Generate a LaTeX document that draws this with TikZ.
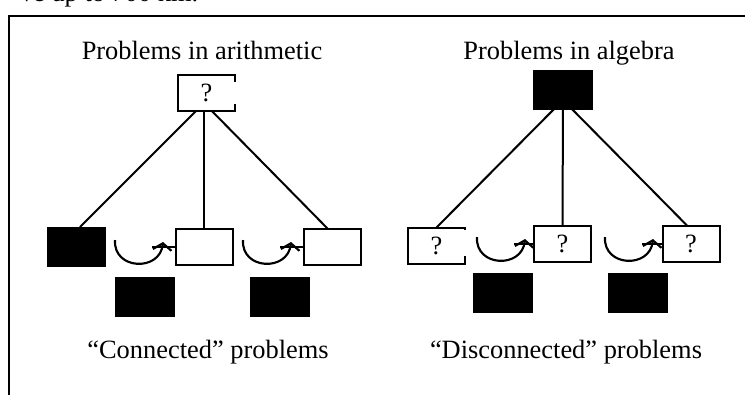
\documentclass[tikz,border=0pt]{standalone}
\usepackage{fontspec}
\setmainfont{Liberation Serif}
\usetikzlibrary{arrows.meta,calc,backgrounds}
\begin{document}
\begin{tikzpicture}[x=0.75pt,y=-0.75pt,
  every node/.style={inner sep=0pt,outer sep=0pt},
  ttl/.style={font=\fontsize{19.8}{24}\selectfont,anchor=base},
  wht/.style={draw,line width=1.5pt,fill=white,minimum width=42.75pt,minimum height=27pt,font=\fontsize{19.8}{24}\selectfont},
  blk/.style={fill=black,minimum width=45pt,minimum height=30pt},
  conn/.style={line width=1.5pt},
  uarc/.style={line width=1.6pt,-{Straight Barb[length=5pt,width=14pt]}},
  framel/.style={line width=1.6pt}]
\useasboundingbox (0,0) rectangle (745,394);

% cut-off text of the page above
\node[ttl,anchor=base west] (cut) at (20,1.5) {ve up to 700 km.};

% frame
\coordinate (fa) at (750,16);
\coordinate (fb) at (9,16);
\coordinate (fc) at (9,400);
\draw[framel] (fa) -- (fb) -- (fc);

% ---------- left tree ----------
\node[ttl] (t1) at (202,59) {Problems in arithmetic};
\node[wht,draw=none] (q1) at (206.5,93) {?};
\draw[conn] ($(q1.north east)+(0,7)$) -- (q1.north east) -- (q1.north west)
  -- (q1.south west) -- (q1.south east) -- ++(0,-7);
\node[blk,minimum width=44.25pt] (A) at (76.5,247) {};
\node[wht] (B) at (204,247) {};
\node[wht] (C) at (332.5,247) {};
\node[blk] (D) at (145,297) {};
\node[blk] (E) at (279.5,297) {};
\node[ttl] (t2) at (208,358) {“Connected” problems};

% ---------- right tree ----------
\node[ttl] (t3) at (569,59) {Problems in algebra};
\node[blk] (K) at (563,90) {};
\node[wht,draw=none] (F) at (436.5,245.5) {?};
\draw[conn] ($(F.south east)+(0,-8)$) -- (F.south east) -- (F.south west)
  -- (F.north west) -- (F.north east) -- ++(0,2);
\node[wht] (G) at (562.5,243.5) {?};
\node[wht] (H) at (691,243.5) {?};
\node[blk] (L1) at (503,293) {};
\node[blk] (L2) at (637.5,293) {};
\node[ttl] (t4) at (566,358) {“Disconnected” problems};

% tree lines behind the boxes
\begin{pgfonlayer}{background}
  \coordinate (j1) at (204,103);
  \draw[conn] (j1) -- ($(A.north)+(3.5,0)$);
  \draw[conn] (j1) -- (B.north);
  \draw[conn] (j1) -- ($(C.north)+(-4.5,0)$);
  \coordinate (j2) at (563,100);
  \draw[conn] (j2) -- (F.north);
  \draw[conn] (j2) -- (G.north);
  \draw[conn] (j2) -- ($(H.north)+(-4,0)$);
\end{pgfonlayer}

% curved arrows
\foreach \n/\dx/\dy/\t in {a/0/0/B, b/128/0/C, c/362/-3/G, d/490/-3/H}{
  \begin{scope}[shift={(\dx,\dy)}]
    \coordinate (s\n) at (115,240);
    \coordinate (c\n) at (113,270);
    \coordinate (d\n) at (160,272);
    \coordinate (h\n) at (163,242);
    \coordinate (l\n) at (152,247);
  \end{scope}
  \draw[uarc] (s\n) .. controls (c\n) and (d\n) .. (h\n);
  \draw[conn] (l\n) -- (l\n -| \t.west);
}
\end{tikzpicture}
\end{document}
